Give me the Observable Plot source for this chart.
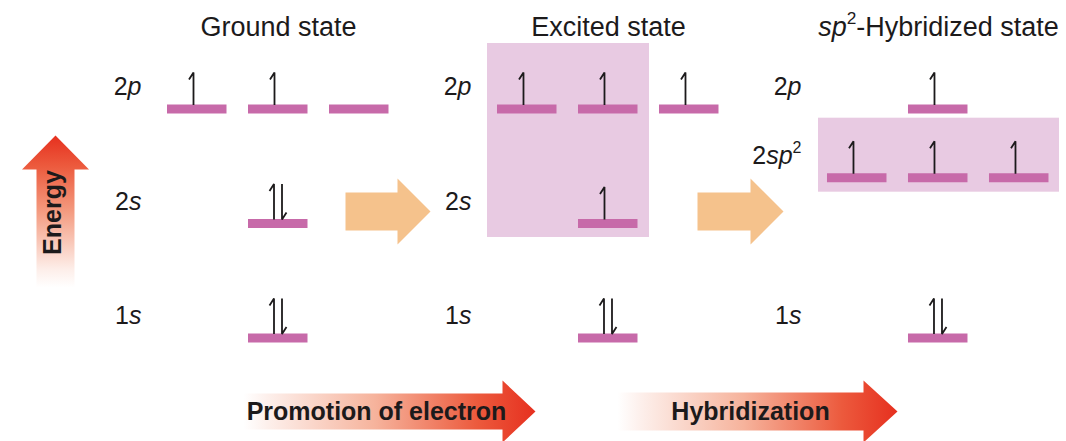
<!DOCTYPE html>
<html><head><meta charset="utf-8">
<script src="https://cdn.jsdelivr.net/npm/d3@7"></script>
<script src="https://cdn.jsdelivr.net/npm/@observablehq/plot@0.6"></script>
<style>body{margin:0;background:#fff;} svg{display:block}</style>
</head><body><div id="chart"></div>
<script>
// ---------------- data ----------------
const states = ["Ground state", "Excited state", "sp²-Hybridized state"];
const levelNames = ["1s", "2s", "2sp²", "2p"];
const levelEnergy = [0, 1, 1.4, 2];
const orbitalState = [0, 0, 0, 0, 0, 1, 1, 1, 1, 1, 2, 2, 2, 2, 2];
const orbitalLevel = ["1s", "2s", "2p", "2p", "2p", "1s", "2s", "2p", "2p", "2p", "1s", "2sp²", "2sp²", "2sp²", "2p"];
const orbitalSlot = [1, 1, 0, 1, 2, 1, 1, 0, 1, 2, 1, 0, 1, 2, 1];
const orbitalElectrons = [2, 2, 1, 1, 0, 2, 1, 1, 1, 1, 2, 1, 1, 1, 1];
const transitions = ["Promotion of electron", "Hybridization"];
const axisLabel = "Energy";

// ---------------- layout ----------------
const W = 1066, H = 441;
const PX = 81, PY = 114.5;          // px per slot unit / per energy unit
const X0 = 197, Y0 = 337.5;         // pixel of slot 0 / energy 0
const STATE_STEP = 4.074;
const ux = p => p / PX, uy = p => p / PY;
const px2x = p => (p - X0) / PX, px2y = p => (Y0 - p) / PY;
const energyOf = Object.fromEntries(levelNames.map((l, i) => [l, levelEnergy[i]]));
const slotX = (s, j) => s * STATE_STEP + j;

const orbitals = orbitalState.map((s, i) => ({
  state: s, level: orbitalLevel[i], e: energyOf[orbitalLevel[i]],
  x: slotX(s, orbitalSlot[i]), n: orbitalElectrons[i]
}));

// electron harpoons
const harp = [];
orbitals.forEach((o, k) => {
  if (o.n === 1) {
    const xs = o.x - ux(4);
    harp.push({id: k + "u", x: xs, y: o.e + uy(4)}, {id: k + "u", x: xs, y: o.e + uy(36.5)}, {id: k + "u", x: xs - ux(4.5), y: o.e + uy(29.5)});
  } else if (o.n === 2) {
    const xu = o.x - ux(4.5), xd = o.x + ux(3.5);
    harp.push({id: k + "u", x: xu, y: o.e + uy(4)}, {id: k + "u", x: xu, y: o.e + uy(39.5)}, {id: k + "u", x: xu - ux(4.5), y: o.e + uy(32.5)});
    harp.push({id: k + "d", x: xd, y: o.e + uy(39.5)}, {id: k + "d", x: xd, y: o.e + uy(4)}, {id: k + "d", x: xd + ux(4.5), y: o.e + uy(11)});
  }
});

// level labels per state
const labels = [];
states.forEach((st, s) => {
  const seen = new Set();
  orbitals.filter(o => o.state === s).forEach(o => {
    if (!seen.has(o.level)) { seen.add(o.level); labels.push({state: s, level: o.level, e: o.e}); }
  });
});

// highlight boxes
const boxes = [
  {x1: slotX(1, 0) - ux(40), x2: slotX(1, 1) + ux(41), y1: energyOf["2s"] - uy(14), y2: energyOf["2p"] + uy(65.5)},
  {x1: slotX(2, 0) - ux(39), x2: slotX(2, 2) + ux(40), y1: energyOf["2sp²"] - uy(14.5), y2: energyOf["2sp²"] + uy(59.5)}
];

// arrow polygon helpers (pixel geometry -> scale units)
function hArrow(id, xl, xb, xt, yc, hb, hh) {
  return [[xl, yc - hb], [xb, yc - hb], [xb, yc - hh], [xt, yc], [xb, yc + hh], [xb, yc + hb], [xl, yc + hb], [xl, yc - hb]]
    .map(([a, b]) => ({id, x: px2x(a), y: px2y(b)}));
}
function vArrow(id, xc, yb, yh, yt, hb, hh) {
  return [[xc - hb, yb], [xc - hb, yh], [xc - hh, yh], [xc, yt], [xc + hh, yh], [xc + hb, yh], [xc + hb, yb], [xc - hb, yb]]
    .map(([a, b]) => ({id, x: px2x(a), y: px2y(b)}));
}
const orangeArrows = [...hArrow("o1", 345, 397, 430, 211, 19, 33), ...hArrow("o2", 697, 750, 783, 211, 19, 33)];
const redArrows = [...hArrow("r1", 243, 502, 535, 411, 18, 31), ...hArrow("r2", 617, 863, 897, 411, 19, 31)];
const energyArrow = vArrow("e", 55, 287, 169, 135, 19, 33.5);

const defs = () => {
  const g = d3.create("svg:defs");
  const v = g.append("linearGradient").attr("id", "gradV").attr("x1", 0).attr("y1", 1).attr("x2", 0).attr("y2", 0);
  [[0, "#ffffff"], [0.12, "#fdeee9"], [0.5, "#f49b80"], [0.8, "#ec5a3d"], [1, "#e6301f"]]
    .forEach(([o, c]) => v.append("stop").attr("offset", o).attr("stop-color", c));
  const h = g.append("linearGradient").attr("id", "gradH").attr("x1", 0).attr("y1", 0).attr("x2", 1).attr("y2", 0);
  [[0, "#ffffff"], [0.08, "#fdf0ec"], [0.45, "#f6b39c"], [0.8, "#ec5a3d"], [1, "#e6301f"]]
    .forEach(([o, c]) => h.append("stop").attr("offset", o).attr("stop-color", c));
  return g.node();
};

const INK = "#1c1a1b";
const plot = Plot.plot({
  width: W, height: H, margin: 0,
  style: {fontFamily: "'Liberation Sans', Arial, Helvetica, sans-serif", background: "#fff", color: INK},
  x: {domain: [px2x(0), px2x(W)], axis: null},
  y: {domain: [px2y(H), px2y(0)], axis: null},
  marks: [
    defs,
    Plot.rect(boxes, {x1: "x1", x2: "x2", y1: "y1", y2: "y2", fill: "#e8cae2"}),
    Plot.line(orangeArrows, {x: "x", y: "y", z: "id", fill: "#f5c28c", stroke: "none", curve: "linear"}),
    Plot.line(redArrows, {x: "x", y: "y", z: "id", fill: "url(#gradH)", stroke: "none", curve: "linear"}),
    Plot.line(energyArrow, {x: "x", y: "y", z: "id", fill: "url(#gradV)", stroke: "none", curve: "linear"}),
    Plot.ruleY(orbitals, {y: "e", x1: d => d.x - ux(30), x2: d => d.x + ux(29.5), stroke: "#c76aa9", strokeWidth: 9}),
    Plot.line(harp, {x: "x", y: "y", z: "id", stroke: INK, strokeWidth: 1.8, strokeLinejoin: "miter", strokeLinecap: "butt"}),
    Plot.text(labels, {x: d => slotX(d.state, 0) - ux(56), y: "e", text: "level", textAnchor: "end", lineAnchor: "bottom", dy: -14, fontSize: 25, fill: INK}),
    Plot.text(states, {x: (d, i) => slotX(i, 1), y: px2y(35), text: d => d, lineAnchor: "bottom", fontSize: 27, fill: INK}),
    Plot.text([axisLabel], {x: px2x(52), y: px2y(212), text: d => d, rotate: -90, fontSize: 25, fontWeight: "bold", fill: INK}),
    Plot.text(transitions, {x: (d, i) => [px2x(376), px2x(750)][i], y: px2y(411), text: d => d, fontSize: 25, fontWeight: "bold", fill: INK})
  ]
});

// rich text: italic orbital letters, superscripts
plot.querySelectorAll("text").forEach(t => {
  const s = t.textContent;
  const m = s.match(/^(\d*)(sp|s|p)(²?)(.*)$/);
  if (!m) return;
  const g = t.closest("[font-size]");
  const fs = g ? parseFloat(g.getAttribute("font-size")) : 25;
  t.textContent = "";
  const add = (txt, attrs) => {
    const ts = document.createElementNS("http://www.w3.org/2000/svg", "tspan");
    ts.textContent = txt;
    for (const k in attrs) ts.setAttribute(k, attrs[k]);
    t.appendChild(ts);
  };
  if (m[1]) add(m[1], {});
  add(m[2], {"font-style": "italic"});
  if (m[3]) add("2", {"font-size": fs * 0.64, dy: -fs * 0.42});
  if (m[4]) add(m[4], m[3] ? {dy: fs * 0.42} : {});
});

document.getElementById("chart").appendChild(plot);
</script>
</body></html>
